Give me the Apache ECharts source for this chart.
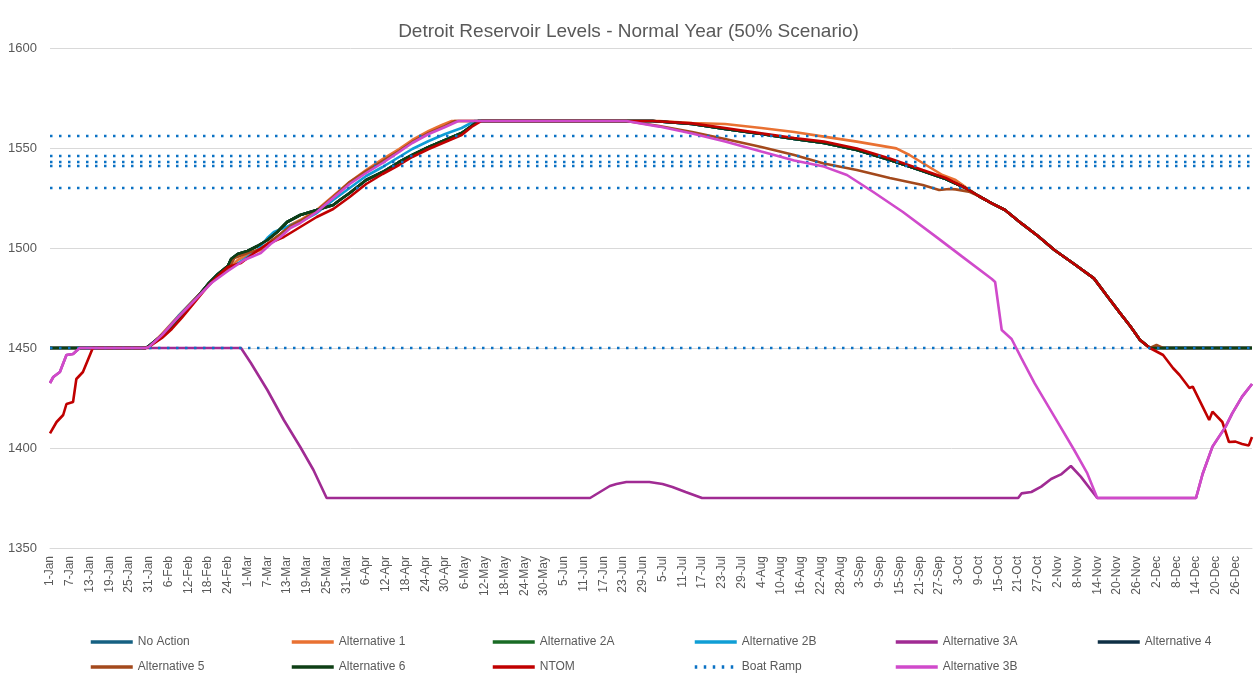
<!DOCTYPE html>
<html>
<head>
<meta charset="utf-8">
<title>Detroit Reservoir Levels</title>
<script src="https://cdn.jsdelivr.net/npm/echarts@6/dist/echarts.min.js"></script>
<style>
  html, body { margin: 0; padding: 0; background: #fff; }
  #chart { width: 1257px; height: 677px; }
</style>
</head>
<body>
<div id="chart"></div>
<script>
  // x axis: one category per day of a leap year
  var monthNames = ['Jan', 'Feb', 'Mar', 'Apr', 'May', 'Jun', 'Jul', 'Aug', 'Sep', 'Oct', 'Nov', 'Dec'];
  var monthDays = [31, 29, 31, 30, 31, 30, 31, 31, 30, 31, 30, 31];
  var yTicks = [1350, 1400, 1450, 1500, 1550, 1600];

  // boat ramp elevations (ft)
  var boatRamps = [1556, 1546, 1543, 1541, 1530, 1450];

  // values as [day index, elevation]
  var startFlat = [[0, 1450], [29, 1450]];
  var riseLower = [[30, 1451], [33, 1455], [37, 1461], [40, 1466], [42, 1470], [45, 1476], [48, 1482], [51, 1487], [54, 1491], [55, 1494.5], [57, 1497], [60, 1498.5], [63, 1501], [66, 1504], [69, 1508], [72, 1513], [76, 1516.5], [81, 1519], [86, 1521.5], [88, 1524], [91, 1527.5], [96, 1534], [101, 1538], [106, 1543], [110, 1546.5], [115, 1550.5], [120, 1554], [125, 1557.5], [128, 1561], [130, 1563.5]];
  var riseAlt1 = [[30, 1450.5], [34, 1457], [39, 1466], [44, 1474.5], [49, 1483], [54, 1489], [57, 1494], [60, 1496.5], [64, 1499], [67, 1503], [70, 1507], [73, 1511.5], [76, 1514], [81, 1519], [86, 1526], [91, 1533], [96, 1539], [101, 1544.5], [106, 1549.5], [110, 1554], [115, 1558.5], [119, 1561.5], [122, 1563.5]];
  var riseAlt2B = [[30, 1450.5], [34, 1456.5], [39, 1466], [44, 1474.5], [49, 1483], [54, 1489], [59, 1494.5], [63, 1499], [66, 1505], [68, 1508], [71, 1510], [74, 1512], [77, 1514], [81, 1517.5], [86, 1524], [91, 1530], [96, 1536], [101, 1540.5], [106, 1545.5], [110, 1549.5], [115, 1553.5], [120, 1557], [125, 1560], [129, 1563.5]];
  var riseAlt5 = [[30, 1450.5], [34, 1456.5], [39, 1465.5], [44, 1474.5], [49, 1483], [54, 1489], [56, 1495], [60, 1497.5], [64, 1499.5], [67, 1503.5], [70, 1507], [73, 1511], [76, 1513.5], [81, 1518.5], [86, 1525.5], [91, 1533], [96, 1538.5], [101, 1543.5], [106, 1548.5], [110, 1553], [115, 1557.5], [120, 1561], [123, 1563.5]];
  var riseNtom = [[30, 1450.5], [34, 1455], [37, 1459.5], [40, 1465], [42, 1469], [45, 1475], [48, 1481], [51, 1486], [54, 1490.5], [58, 1492.5], [62, 1497.5], [66, 1502], [71, 1505.5], [76, 1510.5], [81, 1515.5], [86, 1519.5], [91, 1525.5], [96, 1532], [101, 1537], [106, 1541.5], [110, 1545.5], [115, 1549.5], [120, 1553], [125, 1556.5], [128, 1560.5], [131, 1563.5]];
  var rise3B = [[30, 1450.5], [34, 1456.5], [39, 1465.5], [44, 1474], [49, 1482.5], [54, 1488.5], [59, 1494], [64, 1497.5], [67, 1502], [70, 1505.5], [73, 1510], [76, 1512.5], [81, 1518], [86, 1525], [91, 1532], [96, 1537.5], [101, 1542.5], [106, 1548], [110, 1552.5], [115, 1557], [120, 1560.5], [124, 1563.5]];

  var fallLower = [[183, 1563.5], [195, 1562], [205, 1559.5], [216, 1557], [226, 1554.5], [235, 1552.5], [245, 1549], [255, 1544], [265, 1538.5], [272, 1534.5], [278, 1530]];
  var fallNtom = [[183, 1563.5], [195, 1562.3], [205, 1560], [216, 1557.3], [226, 1555], [235, 1553.2], [245, 1549.8], [255, 1544.8], [265, 1539], [272, 1535], [278, 1530]];
  var fallAlt1 = [[185, 1563.5], [195, 1562.5], [205, 1562], [216, 1560], [226, 1558], [235, 1555.7], [245, 1553.2], [257, 1549.8], [261, 1546.5], [265, 1542.5], [271, 1536.5], [275, 1534], [278, 1530.5]];
  var fallAlt5 = [[175, 1563.5], [185, 1561], [195, 1558], [205, 1554.5], [216, 1550.5], [226, 1546.5], [235, 1542.3], [245, 1539], [255, 1535], [265, 1531.5], [270, 1529], [273, 1529.5], [275, 1529.3], [279, 1528.2]];
  var fallCommon = [[282, 1526], [286, 1522.3], [290, 1519], [295, 1512.3], [300, 1506], [305, 1499], [311, 1492], [317, 1484.8], [321, 1476], [325, 1467.3], [328, 1461], [331, 1454], [334, 1450]];
  var endFlat = [[365, 1450]];
  var endAlt5 = [[336, 1451.5], [338, 1450], [365, 1450]];

  var startNtom = [[0, 1407.3], [2, 1413], [4, 1416.5], [5, 1422], [7, 1423], [8, 1434.5], [10, 1438], [13, 1450], [29, 1450]];
  var endNtom = [[338, 1446.5], [341, 1440], [343, 1436.5], [346, 1430], [347, 1430.7], [350, 1420.7], [352, 1414], [353, 1418.2], [356, 1413], [358, 1403], [360, 1403.2], [362, 1402], [364, 1401.2], [365, 1405.5]];

  var start3B = [[0, 1432.5], [1, 1435.5], [3, 1438], [5, 1446.5], [7, 1447], [9, 1450], [29, 1450]];
  var fall3B = [[175, 1563.5], [185, 1560.7], [195, 1557.3], [205, 1553.2], [216, 1548.2], [226, 1543.7], [235, 1540.7], [242, 1536.5], [250, 1528], [259, 1518], [269, 1505.7], [277, 1495.7], [286, 1484.5], [287, 1483], [289, 1459], [292, 1454.5], [295, 1444.8], [299, 1432.3], [305, 1415.7], [311, 1399], [315, 1387.3], [318, 1375], [348, 1375]];
  var end3B = [[350, 1387], [353, 1400.7], [355, 1405.7], [357, 1410.7], [359, 1417.3], [362, 1425.7], [365, 1432]];
  var mid3A = [[58, 1450], [61, 1442.5], [66, 1429], [71, 1414], [76, 1400.5], [80, 1389], [84, 1375], [164, 1375], [167, 1378], [170, 1381], [172, 1382], [175, 1383], [182, 1383], [186, 1382], [189, 1380.5], [193, 1378], [198, 1375], [294, 1375], [295, 1377.3], [298, 1378], [301, 1380.7], [304, 1384.5], [307, 1386.8], [310, 1391], [313, 1385.7], [318, 1375], [348, 1375]];

  var seriesNames = ['No Action', 'Alternative 1', 'Alternative 2A', 'Alternative 2B', 'Alternative 3A', 'Alternative 4',
    'Alternative 5', 'Alternative 6', 'NTOM', 'Boat Ramp', 'Alternative 3B'];
  var seriesColors = ['#156082', '#E97132', '#196B24', '#0F9ED5', '#A02B93', '#0E2F44',
    '#A3491C', '#0E3F15', '#C00000', '#0B72C4', '#D04ACB'];
  var seriesData = [
    startFlat.concat(riseLower, fallLower, fallCommon, endFlat),
    startFlat.concat(riseAlt1, fallAlt1, fallCommon, endFlat),
    startFlat.concat(riseLower, fallLower, fallCommon, endFlat),
    startFlat.concat(riseAlt2B, fallLower, fallCommon, endFlat),
    start3B.concat(mid3A, end3B),
    startFlat.concat(riseLower, fallLower, fallCommon, endFlat),
    startFlat.concat(riseAlt5, fallAlt5, fallCommon, endAlt5),
    startFlat.concat(riseLower, fallLower, fallCommon, endFlat),
    startNtom.concat(riseNtom, fallNtom, fallCommon, endNtom),
    null,
    start3B.concat(rise3B, fall3B, end3B)
  ];

  // category labels like 1-Jan
  var days = [];
  for (var m = 0; m < monthNames.length; m++) {
    for (var d = 1; d <= monthDays[m]; d++) {
      days.push(d + '-' + monthNames[m]);
    }
  }

  var series = [];
  for (var i = 0; i < seriesNames.length; i++) {
    if (seriesNames[i] === 'Boat Ramp') {
      for (var b = 0; b < boatRamps.length; b++) {
        series.push({
          name: 'Boat Ramp',
          type: 'line',
          symbol: 'none',
          silent: true,
          color: seriesColors[i],
          lineStyle: { width: 2.5, type: [2.5, 6.5], color: seriesColors[i] },
          data: [[0, boatRamps[b]], [days.length - 1, boatRamps[b]]]
        });
      }
    } else {
      series.push({
        name: seriesNames[i],
        type: 'line',
        symbol: 'none',
        color: seriesColors[i],
        lineStyle: { width: 2.6, color: seriesColors[i] },
        data: seriesData[i]
      });
    }
  }

  // legend: 6 columns, 2 rows
  var legendX = [89, 290, 491, 693, 894, 1096];
  var legendY = [636, 661];
  var legends = [];
  for (var k = 0; k < seriesNames.length; k++) {
    legends.push({
      data: [seriesNames[k]],
      left: legendX[k % 6],
      top: legendY[Math.floor(k / 6)],
      padding: 0,
      itemWidth: 42,
      itemHeight: 14,
      itemStyle: { opacity: 0 },
      lineStyle: { width: 3.5 },
      textStyle: { color: '#595959', fontSize: 12, fontFamily: 'Liberation Sans' }
    });
  }

  var chart = echarts.init(document.getElementById('chart'));
  chart.setOption({
    animation: false,
    backgroundColor: '#fff',
    title: {
      text: 'Detroit Reservoir Levels - Normal Year (50% Scenario)',
      left: 'center',
      top: 17,
      textStyle: { color: '#595959', fontSize: 19, fontWeight: 'normal', fontFamily: 'Liberation Sans' }
    },
    legend: legends,
    grid: { left: 50, right: 5, top: 48, bottom: 129 },
    xAxis: {
      type: 'category',
      boundaryGap: false,
      data: days,
      axisTick: { show: false },
      axisLine: { lineStyle: { color: '#d9d9d9' } },
      axisLabel: { interval: 5, rotate: 90, margin: 8, color: '#595959', fontSize: 12, fontFamily: 'Liberation Sans' }
    },
    yAxis: {
      type: 'value',
      min: yTicks[0],
      max: yTicks[yTicks.length - 1],
      interval: 50,
      axisLine: { show: false },
      axisTick: { show: false },
      axisLabel: {
        margin: 13, color: '#595959', fontSize: 13, fontFamily: 'Liberation Sans',
        formatter: function (v) { return String(v); }
      },
      splitLine: { lineStyle: { color: '#d9d9d9' } }
    },
    series: series
  });
</script>
</body>
</html>
